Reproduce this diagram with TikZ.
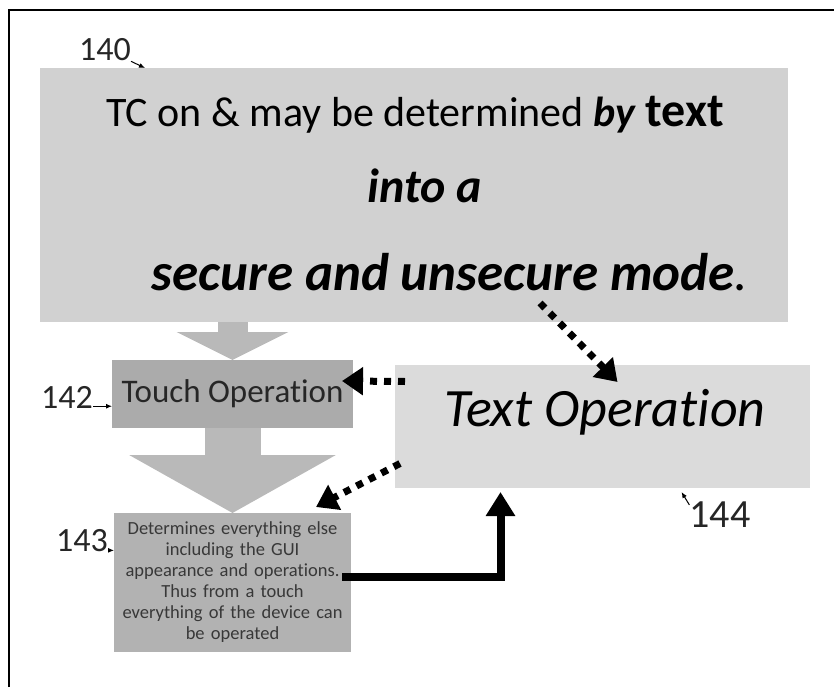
\documentclass[tikz,border=0pt]{standalone}
\usepackage{fontspec}
\setmainfont{Carlito}[Ligatures=NoCommon]
\usetikzlibrary{arrows.meta, positioning, calc}
\tikzset{
  panel/.style   = {rectangle, inner sep=0pt, outer sep=0pt},
  mainbox/.style = {panel, fill=gray!36, minimum width=748pt, minimum height=254pt},
  touchbox/.style= {panel, fill=gray!66, minimum width=241pt, minimum height=68pt,
                    font=\fontsize{33}{40}\selectfont, text=black!85},
  infobox/.style = {panel, fill=gray!60, minimum width=237pt, minimum height=139pt,
                    align=center, text width=235pt, text=black!78,
                    font=\fontsize{18.5}{21}\selectfont},
  textbox/.style = {panel, fill=gray!28, minimum width=415pt, minimum height=123pt},
  bigtxt/.style  = {inner sep=0pt, font=\fontsize{42}{50}\selectfont},
  refnum/.style  = {inner sep=0pt, font=\fontsize{34}{40}\selectfont, text=black!85},
  tick/.style    = {-{Latex[length=6pt, width=5pt]}, line width=1pt},
  fatgray/.style = {gray!55, -{Triangle[length=#1]}},
  dotarr/.style  = {line width=7pt, dash pattern=on 7pt off 7pt,
                    -{Triangle[length=21pt, width=27pt]}},
  solidarr/.style= {line width=8pt, miter limit=4,
                    -{Triangle[length=24pt, width=28pt]}},
}

\begin{document}
\begin{tikzpicture}[x=1pt, y=-1pt]
  \useasboundingbox (0,0) rectangle (834,687);

  % ── Frame ────────────────────────────────────────────────────────────────
  \draw[line width=1.5pt] (9,687) -- (9,10) -- (834,10);

  % ── Boxes ────────────────────────────────────────────────────────────────
  \node[mainbox]                    (main)   at (414,195)   {};
  \node[touchbox]                   (touch)  at (232.5,394) {Touch Operation};
  \node[infobox, below=85pt of touch] (info)
        {Determines everything else\\ including the GUI\\
         appearance and operations.\\ Thus from a touch\\
         everything of the device can\\ be operated};
  \node[textbox]                    (textop) at (602.5,426.5) {};

  % ── Box texts ────────────────────────────────────────────────────────────
  \node[bigtxt, anchor=base] (lineA) at (415,127)
        {TC on \& may be determined \textbf{\textit{by}}
         {\fontsize{48}{50}\selectfont\bfseries text}};
  \node[bigtxt, anchor=base, font=\fontsize{48}{50}\selectfont] (lineB) at (425,202)
        {\textbf{\textit{into a}}};
  \node[bigtxt, anchor=base, font=\fontsize{53}{56}\selectfont] (lineC) at (450,290)
        {\textbf{\textit{secure and unsecure mode}}\textit{.}};
  \node[inner sep=0pt, anchor=base, font=\fontsize{54}{60}\selectfont\itshape]
        (textlbl) at (605,426) {Text Operation};

  % ── Reference numerals ───────────────────────────────────────────────────
  \node[refnum] (n140) at (105,50)  {140};
  \node[refnum, left=19pt of touch, yshift=-3pt] (n142) {142};
  \node[refnum, left=6pt of info.north west, anchor=east, yshift=-28pt] (n143) {143};
  \node[refnum, font=\fontsize{40}{44}\selectfont] (n144) at (720,515) {144};

  \draw[tick] (n140.south east) -- ([xshift=105pt]main.north west);
  \draw[tick] ([yshift=2pt]n142.south east) -- ([yshift=2pt]n142.south east -| touch.west);
  \draw[tick] ([yshift=2pt]n143.south east) -- ([yshift=2pt]n143.south east -| info.west);
  \draw[tick] ([yshift=-3pt]n144.north west) -- ([xshift=79pt,yshift=-4pt]textop.south);

  % ── Block arrows (flow) ──────────────────────────────────────────────────
  \draw[fatgray=28pt, line width=30pt] (touch.north |- main.south) -- (touch.north);
  \draw[fatgray=58pt, line width=56pt] (touch.south) -- (info.north);

  % ── Dotted links ─────────────────────────────────────────────────────────
  \draw[dotarr] ([xshift=126pt,yshift=19pt]main.south)
             -- ([xshift=15pt,yshift=-17pt]textop.north);
  \draw[dotarr] ([xshift=10pt,yshift=45pt]textop.west)
             -- ([xshift=-11pt,yshift=13pt]touch.east);
  \draw[dotarr] ([xshift=5pt,yshift=-37pt]textop.west)
             -- ([xshift=-35pt,yshift=6pt]info.north east);

  % ── GUI back to text operation ───────────────────────────────────────────
  \draw[solidarr] ([xshift=-9pt,yshift=6pt]info.east)
               -| ([xshift=-102pt,yshift=-4pt]textop.south);

\end{tikzpicture}
\end{document}
